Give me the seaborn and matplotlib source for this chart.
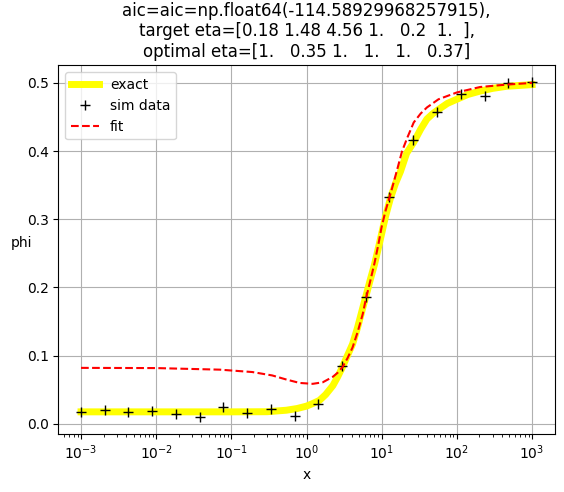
"""
Sigmoid fit on log-spaced x: exact curve, noisy samples and fitted curve.
"""

import numpy as np
import pandas as pd
import matplotlib
matplotlib.use('Agg')
import matplotlib.pyplot as plt
import seaborn as sns

# Simulated data
sim_x = [1.0e-3, 2.07e-3, 4.28e-3, 8.86e-3, 1.83e-2, 3.79e-2, 7.85e-2, 0.162,
         0.336, 0.695, 1.43, 2.98, 6.16, 12.7, 26.4, 54.6, 113.0, 234.0,
         483.0, 1000.0]
sim_phi = [0.0174, 0.0198, 0.0179, 0.0188, 0.0145, 0.0097, 0.0246, 0.0164,
           0.0217, 0.0112, 0.0296, 0.0850, 0.1866, 0.3330, 0.4157, 0.4580,
           0.4840, 0.4815, 0.5000, 0.5010]

# Exact curve
exact_x = [1.0e-3, 1.0e-2, 0.1, 0.3, 0.54, 0.75, 1.0, 1.22, 1.49, 1.8, 2.24,
           2.6, 3.0, 3.5, 4.1, 4.8, 5.6, 6.16, 7.0, 8.0, 9.0, 10.0, 11.3,
           13.1, 15.2, 17.8, 21.5, 26.7, 33.0, 40.0, 48.0, 57.0, 75.0, 100.0,
           140.0, 204.0, 300.0, 457.0, 1000.0]
exact_phi = [0.0176, 0.0176, 0.0176, 0.0178, 0.0200, 0.0225, 0.0260, 0.0300,
             0.0345, 0.0430, 0.0560, 0.0690, 0.0830, 0.1000, 0.1170, 0.1420,
             0.1700, 0.1870, 0.2100, 0.2330, 0.2570, 0.2790, 0.3050, 0.3310,
             0.3520, 0.3700, 0.3970, 0.4130, 0.4320, 0.4470, 0.4550, 0.4610,
             0.4700, 0.4760, 0.4830, 0.4880, 0.4920, 0.4950, 0.4975]

# Fitted curve
fit_x = [1.0e-3, 1.0e-2, 0.07, 0.19, 0.35, 0.54, 0.81, 1.21, 1.65, 2.24, 2.6,
         3.0, 3.5, 4.1, 4.8, 5.6, 6.16, 7.0, 8.0, 9.0, 10.0, 11.3, 13.1,
         16.0, 18.7, 22.0, 26.7, 33.0, 40.0, 57.0, 100.0, 204.0, 457.0,
         1000.0]
fit_phi = [0.0821, 0.0818, 0.0795, 0.0760, 0.0710, 0.0650, 0.0600, 0.0587,
           0.0610, 0.0690, 0.0750, 0.0830, 0.0960, 0.1120, 0.1350, 0.1610,
           0.1830, 0.2080, 0.2350, 0.2620, 0.2890, 0.3130, 0.3370, 0.3720,
           0.4000, 0.4200, 0.4420, 0.4550, 0.4640, 0.4760, 0.4860, 0.4940,
           0.4975, 0.5000]

# Major ticks on x
x_ticks = [1e-3, 1e-2, 1e-1, 1e0, 1e1, 1e2, 1e3]

title = ("aic=aic=np.float64(-114.58929968257915),\n"
         "target eta=[0.18 1.48 4.56 1.   0.2  1.  ],\n"
         "optimal eta=[1.   0.35 1.   1.   1.   0.37]")

fig, ax = plt.subplots(figsize=(5.64, 4.92), dpi=100)
fig.subplots_adjust(left=0.1037, right=0.9832, top=0.8669, bottom=0.1179)

exact_df = pd.DataFrame({'x': exact_x, 'phi': exact_phi})
sim_df = pd.DataFrame({'x': sim_x, 'phi': sim_phi})
fit_df = pd.DataFrame({'x': fit_x, 'phi': fit_phi})

sns.lineplot(data=exact_df, x='x', y='phi', color='yellow', linewidth=5,
             label='exact', ax=ax)
sns.lineplot(data=sim_df, x='x', y='phi', color='k', linestyle='',
             marker='+', markersize=7, markeredgecolor='k',
             markeredgewidth=1.0, label='sim data', ax=ax)
sns.lineplot(data=fit_df, x='x', y='phi', color='red', linestyle='--',
             label='fit', ax=ax)

ax.set_xscale('log')
ax.set_xticks(x_ticks)
ax.set_xlabel('x')
ax.set_ylabel('phi', rotation=0)
ax.set_title(title)
ax.grid(True)
ax.legend(loc='upper left')

plt.savefig('out.png', dpi=100)
plt.close()
